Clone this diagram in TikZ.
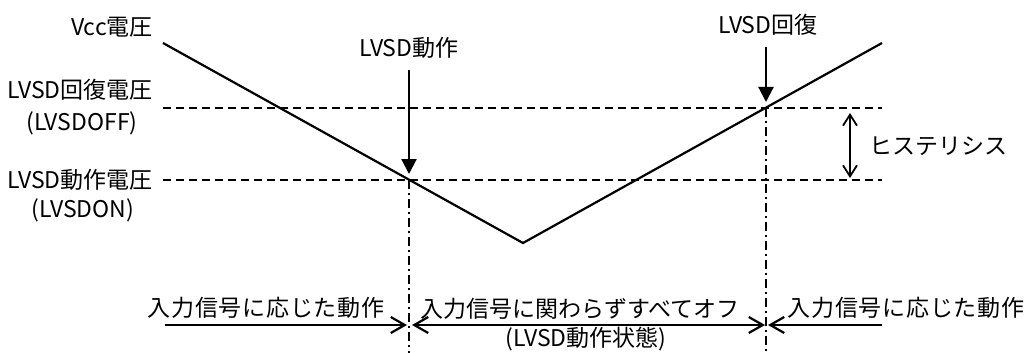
\documentclass[tikz,border=0pt]{standalone}
\usepackage{fontspec}
\setmainfont{Noto Sans CJK JP}
\usetikzlibrary{arrows.meta}
\begin{document}
\begin{tikzpicture}[x=1pt,y=-1pt,
  lbl/.style={inner sep=0pt, font=\fontsize{23}{27}\selectfont},
  wide/.style={lbl, font=\fontsize{23}{27}\selectfont\addfontfeature{LetterSpace=3}},
  curve/.style={line width=2.2pt, line join=miter},
  level/.style={line width=2.2pt, dash pattern=on 8pt off 5pt},
  marker/.style={line width=2.2pt, dash pattern=on 9pt off 4pt on 2pt off 4pt},
  event/.style={line width=2.2pt, -{Triangle[length=15pt,width=15pt]}},
  spanline/.style={line width=2.2pt},
  hyst/.style={line width=1.8pt, {Straight Barb[length=11pt,width=14pt]}-{Straight Barb[length=11pt,width=14pt]}}
]
\useasboundingbox (0,0) rectangle (1029,353);

% curve
\coordinate (vtopL) at (163,43);
\coordinate (vbot) at (523,243);
\coordinate (vtopR) at (882,43);
\draw[curve] (vtopL) -- (vbot) -- (vtopR);

% levels
\coordinate (offL) at (163,108);
\coordinate (offR) at (882,108);
\coordinate (onL) at (163,180);
\coordinate (onR) at (882,180);
\draw[level] (offL) -- (offR);
\draw[level] (onL) -- (onR);

% trigger points
\coordinate (act) at (409,180);
\coordinate (rec) at (766,108);
\coordinate (actB) at (409,353);
\coordinate (recB) at (766,353);
\draw[marker] (act) -- (actB);
\draw[marker] (rec) -- (recB);

% left labels
\node[lbl, anchor=east] (vcc) at (153,27) {Vcc電圧};
\node[lbl, anchor=east] (recv) at (153,90) {LVSD回復電圧};
\node[lbl] (offname) at (82,123) {(LVSDOFF)};
\node[lbl, anchor=east] (actv) at (153,180) {LVSD動作電圧};
\node[lbl] (onname) at (83,210) {(LVSDON)};

% event labels and arrows
\node[lbl] (actlbl) at (409,48) {LVSD動作};
\node[lbl] (reclbl) at (768,25) {LVSD回復};
\coordinate (actS) at (409,70);
\coordinate (actE) at (409,174);
\coordinate (recS) at (766,47);
\coordinate (recE) at (766,102);
\draw[event] (actS) -- (actE);
\draw[event] (recS) -- (recE);

% hysteresis
\coordinate (hT) at (850,113);
\coordinate (hB) at (850,178);
\draw[hyst] (hT) -- (hB);
\node[lbl, anchor=west] (hlbl) at (869,146) {ヒステリシス};

% bottom spans
\coordinate (s1a) at (165,325);
\coordinate (s1b) at (407,325);
\coordinate (s2a) at (412,325);
\coordinate (s2b) at (765,325);
\coordinate (s3a) at (768,325);
\coordinate (s3b) at (882,325);
\draw[spanline, -{Straight Barb[length=14pt,width=16pt]}] (s1a) -- (s1b);
\draw[spanline, {Straight Barb[length=14pt,width=16pt]}-{Straight Barb[length=14pt,width=16pt]}] (s2a) -- (s2b);
\draw[spanline, {Straight Barb[length=14pt,width=16pt]}-] (s3a) -- (s3b);

\node[wide] (normL) at (266,308) {入力信号に応じた動作};
\node[lbl] (offall) at (580,309) {入力信号に関わらずすべてオフ};
\node[lbl] (state) at (586,339) {(LVSD動作状態)};
\node[wide] (normR) at (906,308) {入力信号に応じた動作};
\end{tikzpicture}
\end{document}
